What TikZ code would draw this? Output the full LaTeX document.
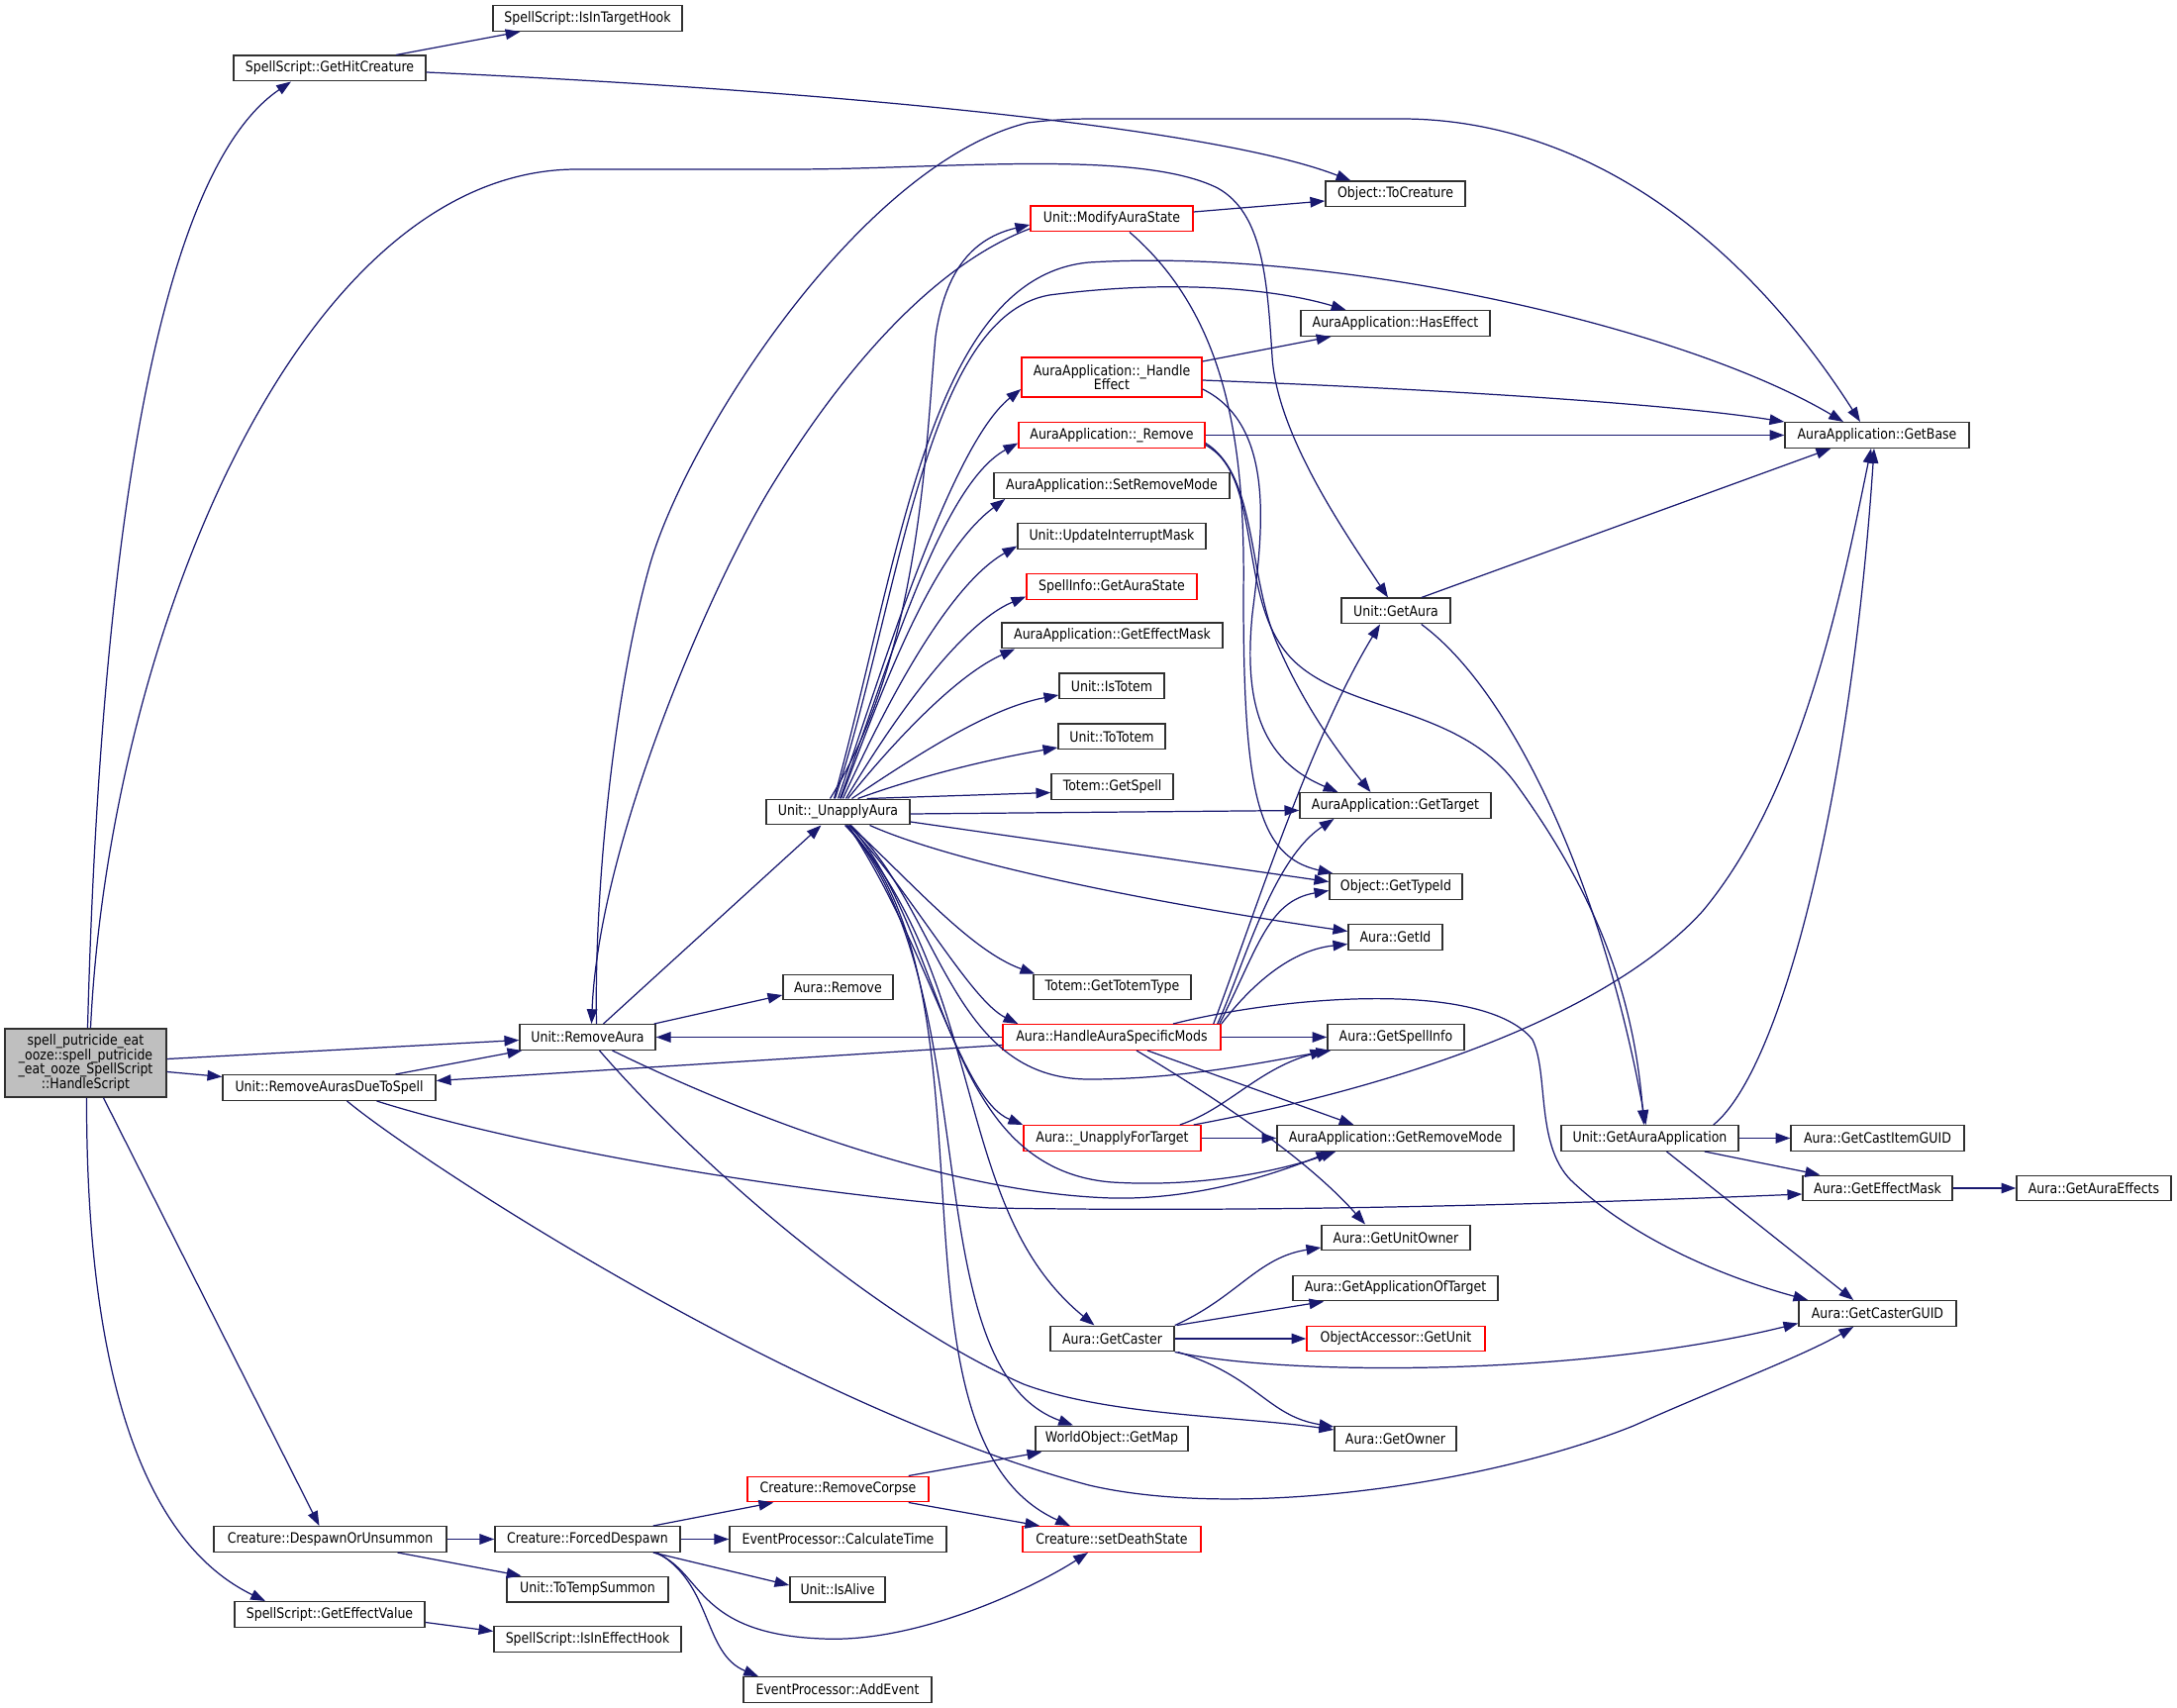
\documentclass[tikz,border=0pt]{standalone}
\usepackage{fontspec}
\newfontfamily\dxfont{DejaVu Sans}[FakeStretch=0.87]
\usetikzlibrary{calc,arrows.meta}
\definecolor{edgeblue}{HTML}{191970}
\definecolor{mainfill}{HTML}{BFBFBF}
\definecolor{boxline}{HTML}{303030}
\tikzset{
  fn/.style={draw=boxline, fill=white, line width=0.42pt, inner sep=0pt, minimum height=0.255cm, align=center, font=\dxfont\fontsize{4.1}{4.1}\selectfont},
  fnred/.style={fn, draw=red},
  fnmain/.style={fn, fill=mainfill},
  wd/.style={minimum width=#1*0.01cm},
  callto/.style={draw=edgeblue, line width=0.35pt, -{Triangle[length=4.2pt,width=3pt]}},
}
\begin{document}
\begin{tikzpicture}[x=0.01cm, y=-0.01cm]
  \useasboundingbox (0,0) rectangle (2199,1725);
  % functions
  \node[fnmain, wd=163, minimum height=0.69cm] (main) at (86.5,1073.5) {spell\_putricide\_eat\\\_ooze::spell\_putricide\\\_eat\_ooze\_SpellScript\\::HandleScript};
  \node[fn, wd=194] (hitcre) at (333,69) {SpellScript::GetHitCreature};
  \node[fn, wd=191] (intgt) at (593.5,18.5) {SpellScript::IsInTargetHook};
  \node[fn, wd=141] (tocre) at (1409.5,196) {Object::ToCreature};
  \node[fnred, wd=164] (modst) at (1123,221) {Unit::ModifyAuraState};
  \node[fn, wd=191] (haseff) at (1409.5,326.5) {AuraApplication::HasEffect};
  \node[fnred, wd=182, minimum height=0.40cm] (handeff) at (1123,381) {AuraApplication::\_Handle\\Effect};
  \node[fnred, wd=188] (aarem) at (1123,439.5) {AuraApplication::\_Remove};
  \node[fn, wd=186] (getbase) at (1896,439.5) {AuraApplication::GetBase};
  \node[fn, wd=238] (setrm) at (1123,490.5) {AuraApplication::SetRemoveMode};
  \node[fn, wd=190] (updmask) at (1123,541.5) {Unit::UpdateInterruptMask};
  \node[fnred, wd=172] (gauras) at (1123,592.5) {SpellInfo::GetAuraState};
  \node[fn, wd=110] (getaura) at (1410,617) {Unit::GetAura};
  \node[fn, wd=223] (geteffm) at (1123.5,642) {AuraApplication::GetEffectMask};
  \node[fn, wd=106] (istotem) at (1123,693) {Unit::IsTotem};
  \node[fn, wd=108] (tototem) at (1123,744) {Unit::ToTotem};
  \node[fn, wd=123] (getspell) at (1123.5,794.5) {Totem::GetSpell};
  \node[fn, wd=145] (unapply) at (846.5,820) {Unit::\_UnapplyAura};
  \node[fn, wd=193] (gettarget) at (1409.5,813.5) {AuraApplication::GetTarget};
  \node[fn, wd=134] (typeid) at (1410,895.5) {Object::GetTypeId};
  \node[fn, wd=95] (getid) at (1409.5,946.5) {Aura::GetId};
  \node[fn, wd=111] (aremove) at (846.5,997) {Aura::Remove};
  \node[fn, wd=159] (totype) at (1123.5,997) {Totem::GetTotemType};
  \node[fn, wd=137] (remaura) at (593.5,1047.5) {Unit::RemoveAura};
  \node[fnred, wd=220] (hasm) at (1123,1047.5) {Aura::HandleAuraSpecificMods};
  \node[fn, wd=138] (spinfo) at (1410,1047.5) {Aura::GetSpellInfo};
  \node[fn, wd=215] (remdue) at (332.5,1098.5) {Unit::RemoveAurasDueToSpell};
  \node[fnred, wd=179] (unft) at (1123.5,1149.5) {Aura::\_UnapplyForTarget};
  \node[fn, wd=239] (getrm) at (1409.5,1149.5) {AuraApplication::GetRemoveMode};
  \node[fn, wd=179] (getaapp) at (1666.5,1149.5) {Unit::GetAuraApplication};
  \node[fn, wd=175] (castitem) at (1896.5,1149.5) {Aura::GetCastItemGUID};
  \node[fn, wd=151] (aeffm) at (1896.5,1200) {Aura::GetEffectMask};
  \node[fn, wd=156] (auraeff) at (2115,1200) {Aura::GetAuraEffects};
  \node[fn, wd=150] (unitown) at (1410,1250) {Aura::GetUnitOwner};
  \node[fn, wd=207] (appoft) at (1409.5,1301) {Aura::GetApplicationOfTarget};
  \node[fn, wd=125] (caster) at (1123.5,1352) {Aura::GetCaster};
  \node[fnred, wd=180] (oagetunit) at (1410,1352) {ObjectAccessor::GetUnit};
  \node[fn, wd=159] (casterguid) at (1896.5,1326.5) {Aura::GetCasterGUID};
  \node[fn, wd=154] (getmap) at (1123,1453) {WorldObject::GetMap};
  \node[fn, wd=123] (getowner) at (1409.5,1453) {Aura::GetOwner};
  \node[fnred, wd=183] (remcorpse) at (846.5,1504) {Creature::RemoveCorpse};
  \node[fn, wd=235] (despawn) at (333.5,1554.5) {Creature::DespawnOrUnsummon};
  \node[fn, wd=187] (forced) at (593.5,1554.5) {Creature::ForcedDespawn};
  \node[fn, wd=219] (calctime) at (846.5,1554.5) {EventProcessor::CalculateTime};
  \node[fnred, wd=180] (deathst) at (1123,1554.5) {Creature::setDeathState};
  \node[fn, wd=163] (totemp) at (593.5,1605) {Unit::ToTempSummon};
  \node[fn, wd=96] (isalive) at (846,1605) {Unit::IsAlive};
  \node[fn, wd=192] (effval) at (333,1630.5) {SpellScript::GetEffectValue};
  \node[fn, wd=189] (ineffhook) at (593.5,1655.5) {SpellScript::IsInEffectHook};
  \node[fn, wd=190] (addevent) at (846,1706.5) {EventProcessor::AddEvent};

  % HandleScript
  \draw[callto] ($(main.north)+(2,0)$) .. controls (100,600) and (150,180) .. ($(hitcre.south)+(-39,0)$);
  \draw[callto] ($(main.north)+(5,0)$) .. controls (110,650) and (300,171) .. (583,171) -- (800,171) .. controls (950,171) and (1150,150) .. (1230,190) .. controls (1275,215) and (1280,280) .. (1285,360) .. controls (1290,440) and (1360,540) .. ($(getaura.north)+(-8,0)$);
  \draw[callto] ($(main.east)+(0,-4)$) -- ($(remaura.west)+(0,3)$);
  \draw[callto] ($(main.east)+(0,9)$) -- ($(remdue.west)+(0,-11)$);
  \draw[callto] ($(main.south)+(18,0)$) -- ($(despawn.north)+(-11,0)$);
  \draw[callto] ($(main.south)+(1,0)$) .. controls (87,1400) and (150,1560) .. ($(effval.north)+(-65,0)$);

  % GetHitCreature
  \draw[callto] ($(hitcre.north)+(67,0)$) -- ($(intgt.south)+(-68,0)$);
  \draw[callto] ($(hitcre.east)+(0,4)$) .. controls (850,92) and (1230,130) .. ($(tocre.north)+(-45,0)$);

  % RemoveAura
  \draw[callto] ($(remaura.north)+(16,0)$) -- ($(unapply.south)+(-17,0)$);
  \draw[callto] ($(remaura.north east)+(-2,0)$) -- ($(aremove.west)+(0,8)$);
  \draw[callto] ($(remaura.north)+(9,0)$) .. controls (600,900) and (620,700) .. (656,572) .. controls (692,444) and (868,166) .. (1038,124) .. controls (1070,120) and (1090,120) .. (1115,120) -- (1415,120) .. controls (1600,120) and (1760,240) .. ($(getbase.north)+(-17,0)$);
  \draw[callto] ($(remaura.south)+(25,0)$) .. controls (760,1130) and (960,1205) .. (1123,1210) .. controls (1210,1212) and (1290,1185) .. ($(getrm.south west)+(55,0)$);
  \draw[callto] ($(remaura.south)+(12,0)$) .. controls (700,1170) and (880,1330) .. (1034,1398) .. controls (1120,1430) and (1250,1430) .. ($(getowner.west)+(0,-9)$);

  % ModifyAuraState
  \draw[callto] ($(modst.west)+(0,10)$) .. controls (950,265) and (860,360) .. (780,490) .. controls (720,587) and (605,850) .. ($(remaura.north)+(4,0)$);
  \draw[callto] ($(modst.east)+(0,-7)$) -- ($(tocre.west)+(0,7)$);
  \draw[callto] ($(modst.south)+(18,0)$) .. controls (1240,320) and (1258,450) .. (1256,600) .. controls (1256,800) and (1270,865) .. ($(typeid.north west)+(4,0)$);

  % RemoveAurasDueToSpell
  \draw[callto] ($(remdue.north)+(67,0)$) -- ($(remaura.south west)+(3,0)$);
  \draw[callto] ($(remdue.south)+(48,0)$) .. controls (500,1150) and (750,1200) .. (1000,1220) .. controls (1300,1225) and (1600,1215) .. ($(aeffm.west)+(0,6)$);
  \draw[callto] ($(remdue.south)+(18,0)$) .. controls (420,1170) and (800,1420) .. (1100,1500) .. controls (1250,1535) and (1500,1500) .. (1650,1440) .. controls (1740,1400) and (1820,1370) .. ($(casterguid.south west)+(56,0)$);

  % _UnapplyAura
  \draw[callto] ($(unapply.north)+(-8,0)$) .. controls (930,660) and (935,450) .. (945,340) .. controls (955,270) and (985,240) .. ($(modst.west)+(0,6)$);
  \draw[callto] ($(unapply.north)+(-4,0)$) .. controls (910,560) and (940,280) .. (1100,265) .. controls (1350,250) and (1700,330) .. ($(getbase.north)+(-34,0)$);
  \draw[callto] ($(unapply.north)+(-3,0)$) .. controls (910,600) and (935,320) .. (1060,298) .. controls (1200,280) and (1300,295) .. ($(haseff.north)+(-50,0)$);
  \draw[callto] (unapply.north) .. controls (890,680) and (960,450) .. ($(handeff.west)+(0,12)$);
  \draw[callto] ($(unapply.north)+(2,0)$) .. controls (895,680) and (950,490) .. ($(aarem.west)+(0,8)$);
  \draw[callto] ($(unapply.north)+(3,0)$) .. controls (890,700) and (940,560) .. ($(setrm.south west)+(12,0)$);
  \draw[callto] ($(unapply.north)+(5,0)$) .. controls (900,700) and (960,590) .. ($(updmask.west)+(0,10)$);
  \draw[callto] ($(unapply.north)+(8,0)$) .. controls (900,730) and (970,630) .. ($(gauras.west)+(0,10)$);
  \draw[callto] ($(unapply.north)+(10,0)$) .. controls (910,740) and (970,680) .. ($(geteffm.south west)+(14,0)$);
  \draw[callto] ($(unapply.north)+(14,0)$) .. controls (930,760) and (1000,715) .. ($(istotem.west)+(0,9)$);
  \draw[callto] ($(unapply.north)+(20,0)$) .. controls (940,780) and (1010,765) .. ($(tototem.west)+(0,11)$);
  \draw[callto] ($(unapply.north east)+(-44,0)$) -- ($(getspell.west)+(0,6)$);
  \draw[callto] ($(unapply.east)+(0,2)$) -- ($(gettarget.west)+(0,5)$);
  \draw[callto] ($(unapply.east)+(0,10)$) -- ($(typeid.west)+(0,-5)$);
  \draw[callto] ($(unapply.south)+(32,0)$) .. controls (960,870) and (1150,910) .. ($(getid.west)+(0,-6)$);
  \draw[callto] ($(unapply.south)+(12,0)$) .. controls (920,890) and (980,960) .. ($(totype.north west)+(2,0)$);
  \draw[callto] ($(unapply.south)+(11,0)$) .. controls (920,900) and (980,1010) .. ($(hasm.north west)+(16,0)$);
  \draw[callto] ($(unapply.south)+(10,0)$) .. controls (940,960) and (970,1110) .. (unft.north west);
  \draw[callto] ($(unapply.south)+(9,0)$) .. controls (1000,1000) and (960,1220) .. ($(caster.north)+(-18,0)$);
  \draw[callto] ($(unapply.south)+(8,0)$) .. controls (1000,1000) and (920,1380) .. ($(getmap.north)+(-39,0)$);
  \draw[callto] ($(unapply.south)+(7,0)$) .. controls (1020,1000) and (880,1450) .. ($(deathst.north)+(-42,0)$);
  \draw[callto] ($(unapply.south)+(13,0)$) .. controls (950,920) and (960,1090) .. (1100,1090) .. controls (1200,1090) and (1290,1070) .. ($(spinfo.south west)+(4,0)$);
  \draw[callto] ($(unapply.south)+(12,0)$) .. controls (960,950) and (950,1180) .. (1123,1194) .. controls (1220,1200) and (1300,1180) .. ($(getrm.south west)+(60,0)$);

  % _HandleEffect and _Remove
  \draw[callto] ($(handeff.east)+(0,-16)$) -- ($(haseff.south)+(-65,0)$);
  \draw[callto] ($(handeff.east)+(0,3)$) .. controls (1500,395) and (1700,410) .. (getbase.north west);
  \draw[callto] ($(handeff.east)+(0,12)$) .. controls (1290,430) and (1275,540) .. (1265,620) .. controls (1255,720) and (1280,770) .. ($(gettarget.north)+(-58,0)$);
  \draw[callto] (aarem.east) -- (getbase.west);
  \draw[callto] ($(aarem.east)+(0,8)$) .. controls (1270,480) and (1260,580) .. (1290,650) .. controls (1320,720) and (1360,770) .. ($(gettarget.north)+(-25,0)$);
  \draw[callto] ($(aarem.east)+(0,10)$) .. controls (1275,480) and (1250,600) .. (1300,660) .. controls (1350,720) and (1470,710) .. (1530,790) .. controls (1610,900) and (1650,1000) .. ($(getaapp.north)+(-6,0)$);

  % Unit::GetAura
  \draw[callto] ($(getaura.north east)+(-30,0)$) -- ($(getbase.south west)+(47,0)$);
  \draw[callto] ($(getaura.south east)+(-30,0)$) .. controls (1530,700) and (1620,900) .. ($(getaapp.north)+(-4,0)$);

  % HandleAuraSpecificMods
  \draw[callto] (hasm.west) -- (remaura.east);
  \draw[callto] ($(hasm.west)+(0,8)$) -- ($(remdue.east)+(0,-7)$);
  \draw[callto] (hasm.east) -- (spinfo.west);
  \draw[callto] ($(hasm.north east)+(-8,0)$) .. controls (1260,945) and (1321,750) .. ($(getaura.south)+(-16,0)$);
  \draw[callto] ($(hasm.north east)+(-4,0)$) .. controls (1255,980) and (1284,869) .. ($(gettarget.south)+(-62,0)$);
  \draw[callto] ($(hasm.north east)+(-2,0)$) .. controls (1270,960) and (1280,910) .. ($(typeid.west)+(0,4)$);
  \draw[callto] (hasm.north east) .. controls (1260,1000) and (1300,960) .. ($(getid.west)+(0,7)$);
  \draw[callto] ($(hasm.north)+(62,0)$) .. controls (1300,1005) and (1500,990) .. (1548,1050) .. controls (1565,1085) and (1550,1160) .. (1590,1195) .. controls (1660,1260) and (1760,1295) .. ($(casterguid.north west)+(10,0)$);
  \draw[callto] ($(hasm.south)+(36,0)$) -- ($(getrm.north)+(-42,0)$);
  \draw[callto] ($(hasm.south)+(25,0)$) .. controls (1230,1110) and (1320,1170) .. ($(unitown.north)+(-31,0)$);

  % _UnapplyForTarget
  \draw[callto] (unft.east) -- (getrm.west);
  \draw[callto] ($(unft.north east)+(-22,0)$) .. controls (1240,1120) and (1270,1080) .. ($(spinfo.south west)+(-2,0)$);
  \draw[callto] ($(unft.north east)+(-8,0)$) .. controls (1400,1100) and (1620,1030) .. (1720,920) .. controls (1820,800) and (1860,600) .. ($(getbase.south)+(-6,0)$);

  % Unit::GetAuraApplication
  \draw[callto] ($(getaapp.north east)+(-26,0)$) .. controls (1800,1080) and (1870,800) .. ($(getbase.south)+(-3,0)$);
  \draw[callto] (getaapp.east) -- (castitem.west);
  \draw[callto] ($(getaapp.south east)+(-35,0)$) -- ($(aeffm.north west)+(18,0)$);
  \draw[callto] ($(getaapp.south)+(17,0)$) -- ($(casterguid.north west)+(56,0)$);
  \draw[callto] (aeffm.east) -- (auraeff.west);

  % Aura::GetCaster
  \draw[callto] (caster.north east) .. controls (1250,1310) and (1270,1270) .. ($(unitown.west)+(0,10)$);
  \draw[callto] ($(caster.north east)+(2,0)$) -- ($(appoft.south west)+(32,0)$);
  \draw[callto] (caster.east) -- (oagetunit.west);
  \draw[callto] (caster.south east) .. controls (1300,1390) and (1600,1390) .. ($(casterguid.west)+(0,10)$);
  \draw[callto] ($(caster.south east)+(3,0)$) .. controls (1270,1390) and (1280,1430) .. ($(getowner.west)+(0,-12)$);

  % despawn branch
  \draw[callto] (despawn.east) -- (forced.west);
  \draw[callto] ($(despawn.south)+(68,0)$) -- ($(totemp.north)+(-67,0)$);
  \draw[callto] ($(forced.north east)+(-28,0)$) -- ($(remcorpse.south west)+(27,0)$);
  \draw[callto] (forced.east) -- (calctime.west);
  \draw[callto] ($(forced.south east)+(-28,0)$) -- ($(isalive.west)+(0,-4)$);
  \draw[callto] ($(forced.south east)+(-27,0)$) .. controls (710,1585) and (700,1650) .. (830,1655) .. controls (930,1660) and (1050,1600) .. ($(deathst.south)+(-24,0)$);
  \draw[callto] ($(forced.south east)+(-24,0)$) .. controls (720,1600) and (710,1670) .. ($(addevent.north)+(-80,0)$);
  \draw[callto] ($(remcorpse.north east)+(-21,0)$) -- ($(getmap.south west)+(7,0)$);
  \draw[callto] ($(remcorpse.south east)+(-21,0)$) -- ($(deathst.north west)+(18,0)$);
  \draw[callto] ($(effval.east)+(0,8)$) -- ($(ineffhook.west)+(0,-8)$);
\end{tikzpicture}
\end{document}
